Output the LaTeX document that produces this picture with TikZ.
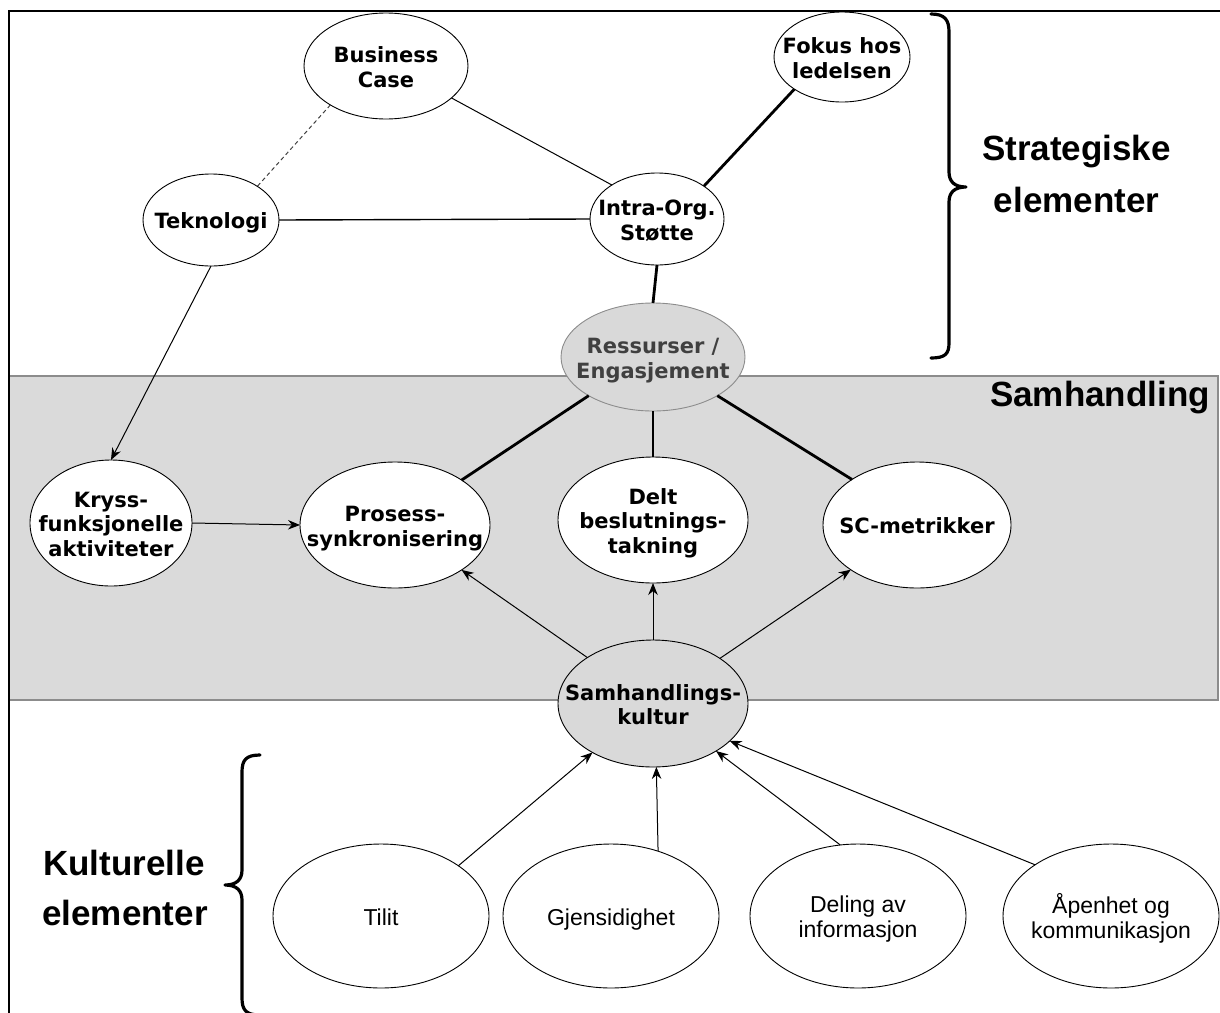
\documentclass[tikz,border=0pt]{standalone}
\usepackage{fontspec}
\setmainfont{Liberation Sans}
\newfontfamily\nodefont{DejaVu Sans}
\usetikzlibrary{shapes.geometric,arrows.meta}

\definecolor{bandfill}{HTML}{DADADA}
\definecolor{bandline}{HTML}{8C8C8C}
\definecolor{resfill}{HTML}{D9D9D9}
\definecolor{restext}{HTML}{404040}

% centred, zero-width multi-line text so the ellipse keeps its given size;
% the extra height sets the lines a little below the geometric centre
\newcommand{\elltext}[1]{\makebox[0pt][c]{\raisebox{0pt}[\dimexpr\height+8pt\relax][\depth]{\begin{tabular}{@{}c@{}}#1\end{tabular}}}}

\begin{document}
\begin{tikzpicture}[x=1pt, y=-1pt,
  ell/.style={ellipse, draw=black, line width=0.9pt, fill=white,
    inner sep=0pt, outer sep=0pt,
    font=\nodefont\bfseries\fontsize{21}{24.5}\selectfont},
  cult/.style={ell, minimum width=216pt, minimum height=144pt,
    font=\fontsize{23}{25.5}\selectfont},
  thinline/.style={line width=1pt},
  thickline/.style={line width=2.8pt},
  arr/.style={line width=1pt, -{Stealth[length=12pt,width=9.5pt]}},
  bracepath/.style={line width=3.2pt, line cap=round, line join=round},
  biglabel/.style={inner sep=0pt, anchor=base,
    font=\bfseries\fontsize{35}{42}\selectfont}
]
\useasboundingbox (0,0) rectangle (1220,1012);

% collaboration band
\draw[fill=bandfill, draw=bandline, line width=1.5pt] (9,376) rectangle (1218,700);
% outer frame (top and left)
\draw[line width=2.2pt] (9,1014) -- (9,11) -- (1222,11);

% strategic elements
\node[ell, minimum width=164pt, minimum height=106pt] (bc)  at (386,66)  {\elltext{Business\\Case}};
\node[ell, minimum width=136pt, minimum height=90pt]  (fok) at (842,57)  {\elltext{Fokus hos\\ledelsen}};
\node[ell, minimum width=136pt, minimum height=92pt]  (tek) at (211,220) {\elltext{Teknologi}};
\node[ell, minimum width=134pt, minimum height=92pt]  (ios) at (657,219) {\elltext{Intra-Org.\\Støtte}};
\node[ell, fill=resfill, draw=bandline, text=restext,
      minimum width=184pt, minimum height=108pt]     (res) at (653,357) {\elltext{Ressurser /\\Engasjement}};

% collaboration elements
\node[ell, minimum width=162pt, minimum height=126pt] (kry) at (111,523) {\elltext{Kryss-\\funksjonelle\\aktiviteter}};
\node[ell, minimum width=190pt, minimum height=126pt] (pro) at (395,525) {\elltext{Prosess-\\synkronisering}};
\node[ell, minimum width=190pt, minimum height=126pt] (dbt) at (653,520) {\elltext{Delt\\beslutnings-\\takning}};
\node[ell, minimum width=188pt, minimum height=126pt] (scm) at (917,525) {\elltext{SC-metrikker}};
\node[ell, fill=resfill, minimum width=190pt, minimum height=127pt] (sam) at (653,703.5) {\elltext{Samhandlings-\\kultur}};

% cultural elements
\node[cult] (til) at (381,916)  {\elltext{Tilit}};
\node[cult] (gje) at (611,916)  {\elltext{Gjensidighet}};
\node[cult] (dav) at (858,916)  {\elltext{Deling av\\informasjon}};
\node[cult] (apn) at (1111,916) {\elltext{Åpenhet og\\kommunikasjon}};

% strategic links
\draw[thinline, dashed, dash pattern=on 4pt off 3pt, draw=black!75] (bc.215) -- (tek.36);
\draw[thinline] (bc.334) -- (ios.143.5);
\draw[line width=1.4pt] (tek.east) -- (ios.west);
\draw[thickline] (ios.35) -- (fok.214.5);
\draw[thickline] (ios.south) -- (res.north);
\draw[thickline] (res.211.6) -- (pro.34.7);
\draw[thickline] (res.south) -- (dbt.north);
\draw[thickline] (res.329.3) -- (scm.145.7);

% influence arrows
\draw[arr] (tek.south) -- (kry.north);
\draw[arr] (kry.east) -- (pro.west);
\draw[arr] (sam.145.4) -- (pro.326);
\draw[arr] (sam.north) -- (dbt.south);
\draw[arr] (sam.34.6) -- (scm.214);
\draw[arr] (til.33.9) -- (sam.219.6);
\draw[arr] (gje.54.2) -- (sam.273.5);
\draw[arr] (dav.104.8) -- (sam.323);
\draw[arr] (apn.146) -- (sam.334.6);

% braces
\draw[bracepath] (931,14) .. controls (945,14) and (949,20) .. (949,32) -- (949,172)
  .. controls (949,182) and (955,187) .. (966,187)
  .. controls (955,187) and (949,192) .. (949,202) -- (949,343)
  .. controls (949,354) and (945,358) .. (931,358);
\draw[bracepath] (260,755) .. controls (246,755) and (242,760) .. (242,772) -- (242,870)
  .. controls (242,880) and (236,885) .. (225,885)
  .. controls (236,885) and (242,890) .. (242,900) -- (242,998)
  .. controls (242,1010) and (246,1015) .. (260,1015);

% group labels
\node[biglabel] (strA) at (1076.5,160) {Strategiske};
\node[biglabel] (strB) at (1076.5,212) {elementer};
\node[biglabel] (sam-label) at (1100,406) {Samhandling};
\node[biglabel] (kulA) at (124,875) {Kulturelle};
\node[biglabel] (kulB) at (125,925) {elementer};
\end{tikzpicture}
\end{document}
